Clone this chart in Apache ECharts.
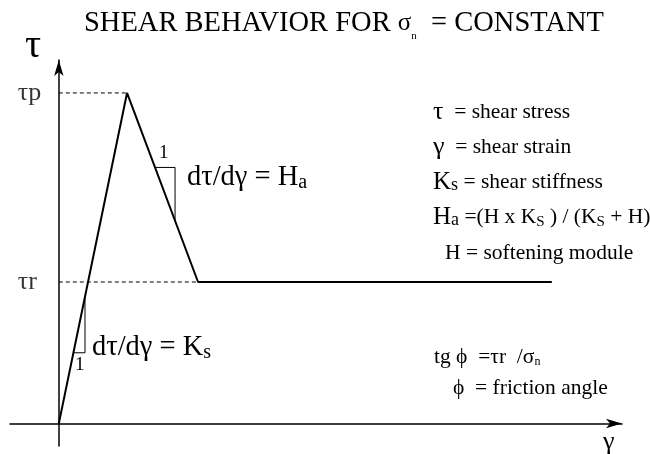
<!DOCTYPE html>
<html>
<head>
<meta charset="utf-8">
<script src="https://cdn.jsdelivr.net/npm/echarts@6/dist/echarts.min.js"></script>
<style>html,body{margin:0;padding:0;background:#fff}#chart{width:650px;height:454px}</style>
</head>
<body>
<div id="chart"></div>
<script>
var chart = echarts.init(document.getElementById('chart'));
var serif = 'Liberation Serif';

// stress-strain path (gamma, tau)
var gammaPath = [0, 11.18, 22.82, 80.8];
var tauPath = [0, 88.3, 37.8, 37.8];
var tauPeak = 88.3, tauRes = 37.8;
var tauTicks = [tauRes, tauPeak];
var tauTickLabels = ['τr', 'τp'];
// slope triangles
var triKx = [2.39, 4.29, 4.29], triKy = [18.9, 18.9, 33.9];
var triHx = [15.77, 19.05, 19.05], triHy = [68.4, 68.4, 54.2];

function pairs(xs, ys) {
    var a = [];
    for (var i = 0; i < xs.length; i++) a.push([xs[i], ys[i]]);
    return a;
}
function line(data, w, dash) {
    return {
        type: 'line', data: data, showSymbol: false, silent: true, animation: false,
        lineStyle: { color: '#000', width: w, type: dash || 'solid' }
    };
}
function txt(x, y, text, rich, size) {
    return {
        type: 'text', x: x, y: y, silent: true,
        style: { text: text, rich: rich || {}, font: (size || 21.5) + 'px ' + serif,
                 fill: '#000', verticalAlign: 'middle' }
    };
}
var big = { fontSize: 28.5, fontFamily: serif };
var bsub = { fontSize: 20, fontFamily: serif, verticalAlign: 'bottom' };
var mid = { fontSize: 25, fontFamily: serif };
var sub = { fontSize: 18, fontFamily: serif, verticalAlign: 'bottom' };
var norm = { fontSize: 21.5, fontFamily: serif };
var greek = { fontSize: 26, fontFamily: serif };

option = {
    animation: false,
    title: {
        left: 79, top: 4,
        text: '{a|SHEAR BEHAVIOR FOR }{s|σ}{n|n}{a|  = CONSTANT}',
        textStyle: {
            rich: {
                a: { fontSize: 28.5, fontFamily: serif, color: '#000', fontWeight: 'normal' },
                s: { fontSize: 25, fontFamily: serif, color: '#000', fontWeight: 'normal' },
                n: { fontSize: 11, fontFamily: serif, color: '#000', fontWeight: 'normal', verticalAlign: 'bottom', padding: [0, 0, -4, 0] }
            }
        }
    },
    grid: { left: 10, right: 28, top: 60, bottom: 8, outerBoundsMode: 'none' },
    xAxis: {
        type: 'value', min: -8, max: 92.3,
        axisLine: { onZero: true, symbol: ['none', 'arrow'], symbolSize: [7, 16],
                    lineStyle: { color: '#000', width: 1.5 } },
        axisTick: { show: false }, axisLabel: { show: false }, splitLine: { show: false }
    },
    yAxis: {
        type: 'value', min: -6, max: 97.1,
        axisLine: { onZero: true, symbol: ['none', 'arrow'], symbolSize: [7, 16],
                    lineStyle: { color: '#000', width: 1.5 } },
        axisTick: { show: false }, axisLabel: { show: false }, splitLine: { show: false }
    },
    series: [
        line(pairs(gammaPath, tauPath), 2),
        line([[0, tauPeak], [gammaPath[1], tauPeak]], 1, [4, 3]),
        line([[0, tauRes], [gammaPath[2], tauRes]], 1, [4, 3]),
        line(pairs(triKx, triKy), 1),
        line(pairs(triHx, triHy), 1),
        {
            // tau tick labels on the y axis
            type: 'scatter', symbolSize: 0, silent: true,
            data: tauTicks.map(function (v) { return [0, v]; }),
            label: {
                show: true, position: 'left', align: 'left', distance: 41,
                fontSize: 26, fontFamily: serif, color: '#000',
                formatter: function (p) { return tauTickLabels[p.dataIndex]; }
            }
        }
    ],
    graphic: [
        txt(25, 46, 'τ', null, 40),
        txt(603, 442, 'γ', null, 26),
        txt(159, 153, '1', null, 19),
        txt(75, 365, '1', null, 19),
        txt(187, 178, '{b|dτ/dγ = H}{s|a}', { b: big, s: bsub }),
        txt(92, 348, '{b|dτ/dγ = K}{s|s}', { b: big, s: bsub }),
        txt(433, 112, '{g|τ}{t|  = shear stress}', { g: greek, t: norm }),
        txt(433, 147, '{g|γ}{t|  = shear strain}', { g: greek, t: norm }),
        txt(433, 182, '{b|K}{s|s}{t| = shear stiffness}', { b: mid, s: sub, t: norm }),
        txt(433, 217, '{b|H}{s|a}{t| =(H x K}{s2|S}{t| ) / (K}{s2|S}{t| + H)}',
            { b: mid, s: sub, t: norm, s2: { fontSize: 15, fontFamily: serif, verticalAlign: 'bottom' } }),
        txt(445, 253, '{t|H = softening module}', { t: norm }),
        txt(434, 357, '{t|tg ϕ  =τr  /σ}{n|n}',
            { t: norm, n: { fontSize: 12, fontFamily: serif, verticalAlign: 'bottom' } }),
        txt(453, 388, '{t|ϕ  = friction angle}', { t: norm })
    ]
};
chart.setOption(option);
</script>
</body>
</html>
